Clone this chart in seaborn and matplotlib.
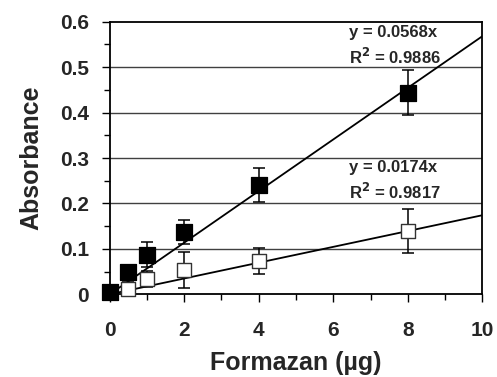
import numpy as np
import pandas as pd
import matplotlib
matplotlib.use("Agg")
import matplotlib.pyplot as plt
import seaborn as sns

# data
formazan = [0, 0.5, 1, 2, 4, 8]
abs_filled = [0.005, 0.050, 0.087, 0.137, 0.241, 0.444]
err_filled = [0.0, 0.008, 0.027, 0.027, 0.038, 0.049]
abs_open = [0.005, 0.011, 0.034, 0.054, 0.073, 0.139]
err_open = [0.0, 0.015, 0.017, 0.040, 0.028, 0.049]
slope_filled = 0.0568
slope_open = 0.0174
x_fit = [0, 10]

sns.set_style("white")
plt.rcParams['font.family'] = ['Liberation Sans', 'DejaVu Sans']
plt.rcParams['font.weight'] = 'bold'
plt.rcParams['mathtext.default'] = 'bf'

fig = plt.figure(figsize=(4.97, 3.77), dpi=100)
ax = fig.add_axes([0.2207, 0.2194, 0.7497, 0.723])

#horizontal gridlines
for g in np.arange(0.1, 0.6, 0.1):
    ax.axhline(g, color="#404040", lw=1.0, zorder=0)

#fit lines
fit = pd.DataFrame({"x": x_fit * 2,
                    "y": [slope_filled * v for v in x_fit] + [slope_open * v for v in x_fit],
                    "s": ["filled"] * 2 + ["open"] * 2})
sns.lineplot(data=fit, x="x", y="y", units="s", estimator=None, color="black", lw=1.3, ax=ax, zorder=2)

#error bars
ax.errorbar(formazan, abs_open, yerr=err_open, fmt="none", ecolor="black", elinewidth=1.1, capsize=4, capthick=1.1, zorder=3)
ax.errorbar(formazan, abs_filled, yerr=err_filled, fmt="none", ecolor="black", elinewidth=1.1, capsize=4, capthick=1.1, zorder=3)

#markers
sns.scatterplot(x=formazan, y=abs_open, marker="s", s=115, facecolor="white", edgecolor="#333333", linewidth=1.0, ax=ax, zorder=4, clip_on=False)
sns.scatterplot(x=formazan, y=abs_filled, marker="s", s=125, color="black", edgecolor="black", ax=ax, zorder=5, clip_on=False)

#equations
ax.text(6.42, 0.577, "y = 0.0568x", fontsize=12, fontweight="bold", va="center", ha="left")
ax.text(6.42, 0.523, "R$^2$ = 0.9886", fontsize=12, fontweight="bold", va="center", ha="left")
ax.text(6.42, 0.278, "y = 0.0174x", fontsize=12, fontweight="bold", va="center", ha="left")
ax.text(6.42, 0.225, "R$^2$ = 0.9817", fontsize=12, fontweight="bold", va="center", ha="left")

ax.set_xlim(0, 10)
ax.set_ylim(0, 0.6)
ax.set_xticks([0, 2, 4, 6, 8, 10])
ax.set_xticks([1, 3, 5, 7, 9], minor=True)
ax.set_yticks([0, 0.1, 0.2, 0.3, 0.4, 0.5, 0.6])
ax.set_yticklabels(["0", "0.1", "0.2", "0.3", "0.4", "0.5", "0.6"])
ax.set_yticks(np.arange(0.05, 0.6, 0.1), minor=True)
ax.tick_params(axis="both", which="both", direction="out", color="black", width=1.0)
ax.tick_params(axis="both", which="major", length=6, labelsize=15, pad=9)
ax.tick_params(axis="both", which="minor", length=4)
ax.tick_params(axis="x", which="major", pad=13)
ax.tick_params(bottom=True, left=True, which="both")
for sp in ax.spines.values():
    sp.set_color("black")
    sp.set_linewidth(1.3)

ax.set_xlabel("Formazan (µg)", fontsize=18, fontweight="bold", labelpad=8)
ax.set_ylabel("Absorbance", fontsize=18, fontweight="bold", labelpad=12)

fig.savefig("out.png", dpi=100)
